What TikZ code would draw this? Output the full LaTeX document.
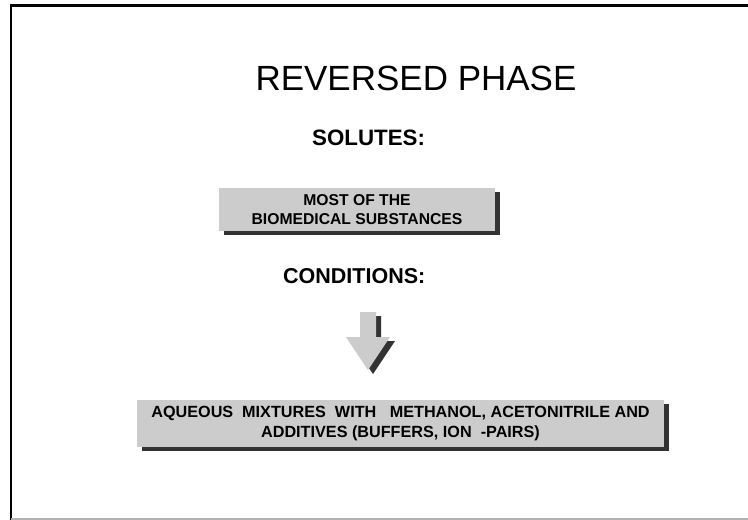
\documentclass[tikz,border=0pt]{standalone}
\usepackage{fontspec}
\setmainfont{Liberation Sans}
\usetikzlibrary{shadows}
\definecolor{boxgray}{RGB}{204,204,204}
\definecolor{shadowgray}{RGB}{51,51,51}
\newcommand{\drawDownArrow}[3]{
   	\fill[#3] (#1-8,#2) -- (#1+8,#2) -- (#1+8,#2+25) -- (#1+22,#2+25) -- (#1,#2+58) -- (#1-22,#2+25) -- (#1-8,#2+25) -- cycle;
}
\tikzset{
	graybox/.style={fill=boxgray, inner sep=0pt, align=center, font=\fontsize{15.7}{19.5}\selectfont\bfseries,
		general shadow={fill=shadowgray, shadow xshift=5pt, shadow yshift=-4pt}},
	heading/.style={font=\fontsize{21.5}{26}\selectfont\bfseries, anchor=base west, inner sep=0pt}
}
\begin{document}
\begin{tikzpicture}[x=1pt,y=-1pt]
%%%%%%%%%%%%%%%%%%
\useasboundingbox (0,0) rectangle (748,520);

%Frame
	\draw[line width=2.5pt] (11,520) -- (11,5.5) -- (748,5.5);
	\draw[line width=1.5pt, black!30] (11,519) -- (748,519);

%Title
	\node[anchor=base, inner sep=0pt, font=\fontsize{35}{42}\selectfont] (title) at (416,90) {REVERSED PHASE};

%Solutes
	\node[heading, font=\fontsize{22.3}{26}\selectfont\bfseries] (solutes) at (312,145) {SOLUTES:};
	\node[graybox, minimum width=276pt, minimum height=43pt] (substances) at (357,209.5) {MOST OF THE\\BIOMEDICAL SUBSTANCES};

%Conditions
	\node[heading] (conditions) at (283,283) {CONDITIONS:};
\drawDownArrow{373}{316}{shadowgray}
\drawDownArrow{368}{312}{boxgray}
	\node[graybox, font=\fontsize{16.2}{20}\selectfont\bfseries, minimum width=527pt, minimum height=47pt] (mixtures) at (400.5,423.5) {AQUEOUS\ \ MIXTURES\ \ WITH\ \ \ METHANOL, ACETONITRILE AND\\ADDITIVES (BUFFERS, ION\ \ -PAIRS)};

\end{tikzpicture}
\end{document}
